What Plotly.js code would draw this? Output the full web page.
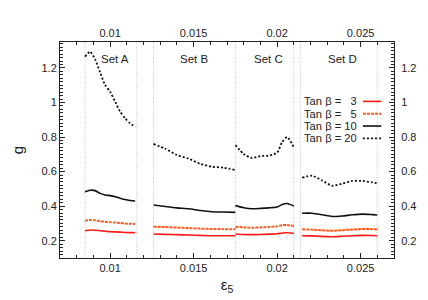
<!DOCTYPE html>
<html>
<head>
<meta charset="utf-8">
<script src="https://cdn.plot.ly/plotly-3.0.1.min.js"></script>
<style>html,body{margin:0;padding:0;background:#fff;}#chart{width:428px;height:300px;}</style>
</head>
<body>
<div id="chart"></div>
<script>
// ---- data ----
const setNames = ["Set A", "Set B", "Set C", "Set D"];
const setLabelX = [0.0103, 0.0150, 0.0195, 0.0239];
const setBounds = [0.0085, 0.0116, 0.0126, 0.0175, 0.0210, 0.0214, 0.0260];

const xSetA = [0.0085, 0.0088, 0.0091, 0.0094, 0.0097, 0.0100, 0.0103, 0.0106, 0.0109, 0.0112, 0.0115];
const xSetB = [0.0126, 0.0133, 0.0140, 0.0147, 0.0154, 0.0161, 0.0168, 0.0175];
const xSetC = [0.0175, 0.0180, 0.0185, 0.0190, 0.0195, 0.0200, 0.0203, 0.0206, 0.0210];
const xSetD = [0.0215, 0.0221, 0.0227, 0.0233, 0.0239, 0.0245, 0.0251, 0.0257, 0.0260];

const tb3A  = [0.258, 0.262, 0.261, 0.258, 0.255, 0.252, 0.251, 0.250, 0.248, 0.247, 0.246];
const tb3B  = [0.239, 0.237, 0.235, 0.233, 0.231, 0.229, 0.229, 0.229];
const tb3C  = [0.239, 0.236, 0.235, 0.236, 0.238, 0.240, 0.245, 0.246, 0.243];
const tb3D  = [0.229, 0.228, 0.225, 0.223, 0.226, 0.229, 0.231, 0.230, 0.229];

const tb5A  = [0.316, 0.320, 0.318, 0.313, 0.310, 0.307, 0.305, 0.303, 0.300, 0.298, 0.297];
const tb5B  = [0.281, 0.279, 0.276, 0.273, 0.270, 0.268, 0.267, 0.266];
const tb5C  = [0.281, 0.277, 0.275, 0.277, 0.280, 0.283, 0.290, 0.291, 0.285];
const tb5D  = [0.266, 0.264, 0.260, 0.258, 0.261, 0.265, 0.268, 0.267, 0.266];

const tb10A = [0.484, 0.492, 0.490, 0.474, 0.465, 0.461, 0.455, 0.446, 0.438, 0.433, 0.430];
const tb10B = [0.407, 0.398, 0.390, 0.385, 0.375, 0.368, 0.366, 0.364];
const tb10C = [0.403, 0.391, 0.385, 0.387, 0.390, 0.395, 0.410, 0.415, 0.401];
const tb10D = [0.359, 0.359, 0.350, 0.340, 0.343, 0.350, 0.354, 0.351, 0.349];

const tb20A = [1.265, 1.294, 1.250, 1.175, 1.101, 1.062, 1.005, 0.947, 0.908, 0.879, 0.860];
const tb20B = [0.760, 0.732, 0.696, 0.675, 0.645, 0.628, 0.623, 0.609];
const tb20C = [0.754, 0.702, 0.678, 0.690, 0.692, 0.710, 0.770, 0.800, 0.741];
const tb20D = [0.565, 0.576, 0.548, 0.518, 0.530, 0.546, 0.546, 0.538, 0.532];

const legendLabels = ["Tan \u03b2 =\u00a0\u00a0\u00a03", "Tan \u03b2 =\u00a0\u00a0\u00a05", "Tan \u03b2 = 10", "Tan \u03b2 = 20"];

// ---- build ----
function join(parts) { const out = []; parts.forEach((p, i) => { if (i) out.push(null); out.push(...p); }); return out; }
const xAll = join([xSetA, xSetB, xSetC, xSetD]);

const styles = [
  {color: "#ff1a1a", width: 1.6, dash: "solid"},
  {color: "#ff5a1f", width: 2, dash: "3px,1px"},
  {color: "#111111", width: 1.6, dash: "solid"},
  {color: "#111111", width: 1.8, dash: "2px,2px"}
];
const series = [
  [tb3A, tb3B, tb3C, tb3D],
  [tb5A, tb5B, tb5C, tb5D],
  [tb10A, tb10B, tb10C, tb10D],
  [tb20A, tb20B, tb20C, tb20D]
];

const traces = series.map((s, i) => ({
  type: "scatter", mode: "lines", x: xAll, y: join(s), name: legendLabels[i],
  line: Object.assign({shape: "spline", smoothing: 0.6}, styles[i]),
  connectgaps: false, showlegend: false, hoverinfo: "skip"
}));
traces.push({type: "scatter", mode: "lines", x: [0.02], y: [0.5], xaxis: "x2", yaxis: "y2",
  line: {width: 0}, opacity: 0, showlegend: false, hoverinfo: "skip"});

const xr = [0.007, 0.027], yr = [0.1, 1.35];
const FONT = "Liberation Sans, Arial, sans-serif";
const tickFont = {family: FONT, size: 11, color: "#222"};
const axCommon = {showgrid: false, zeroline: false, showline: true, linecolor: "#222", linewidth: 1,
  ticks: "inside", ticklen: 5, tickcolor: "#222", tickfont: tickFont};

const shapes = setBounds.map(b => ({type: "line", xref: "x", yref: "paper", x0: b, x1: b, y0: 0, y1: 1,
  line: {color: "#c4c4c4", width: 1, dash: "1px,1.5px"}, layer: "below"}));

const annotations = setNames.map((n, i) => ({x: setLabelX[i], y: 1.252, xref: "x", yref: "y", text: n,
  showarrow: false, font: {family: FONT, size: 11.5, color: "#222"}}));

// legend (text right-aligned, sample line to the right)
const legTop = 0.725, legStep = 0.057;
legendLabels.forEach((lab, i) => {
  const yy = legTop - i * legStep;
  annotations.push({xref: "paper", yref: "paper", x: 0.895, y: yy, xanchor: "right", yanchor: "middle",
    height: 11.5, valign: "middle",
    text: lab, showarrow: false, font: {family: FONT, size: 11.2, color: "#222"}});
  shapes.push({type: "line", xref: "paper", yref: "paper", x0: 0.907, x1: 0.962, y0: yy, y1: yy,
    line: {color: styles[i].color, width: styles[i].width, dash: styles[i].dash}});
});

const layout = {
  width: 428, height: 300,
  margin: {l: 60, r: 34, t: 42, b: 42},
  paper_bgcolor: "#fff", plot_bgcolor: "#fff",
  showlegend: false,
  xaxis: Object.assign({}, axCommon, {range: xr, dtick: 0.005, tick0: 0,
    minor: {dtick: 0.001, ticklen: 3, ticks: "inside", tickcolor: "#222"},
    title: {text: "\u03b5<sub>5</sub>", font: {family: FONT, size: 15, color: "#222"}, standoff: 6}}),
  yaxis: Object.assign({}, axCommon, {range: yr, dtick: 0.2, tick0: 0,
    minor: {dtick: 0.02, ticklen: 3, ticks: "inside", tickcolor: "#222"},
    title: {text: "g", font: {family: FONT, size: 15, color: "#222"}, standoff: 14}}),
  xaxis2: Object.assign({}, axCommon, {range: xr, dtick: 0.005, tick0: 0, overlaying: "x", side: "top",
    minor: {dtick: 0.001, ticklen: 3, ticks: "inside", tickcolor: "#222"}}),
  yaxis2: Object.assign({}, axCommon, {range: yr, dtick: 0.2, tick0: 0, overlaying: "y", side: "right",
    ticklabelstandoff: 4,
    minor: {dtick: 0.02, ticklen: 3, ticks: "inside", tickcolor: "#222"}}),
  shapes: shapes,
  annotations: annotations
};

Plotly.newPlot("chart", traces, layout, {staticPlot: true, displayModeBar: false});
</script>
</body>
</html>
